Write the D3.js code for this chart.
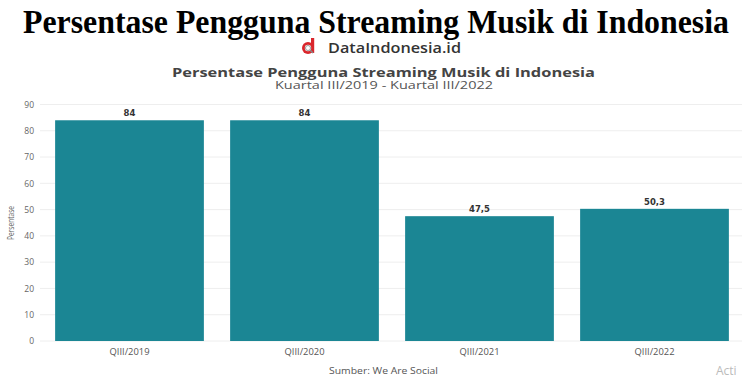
<!DOCTYPE html>
<html><head><meta charset="utf-8">
<script src="https://cdn.jsdelivr.net/npm/d3@7"></script>
<style>body{margin:0;background:#fff;}svg{display:block;}</style>
</head><body>
<svg id="c" width="745" height="377"></svg>
<script>
const categories = ["QIII/2019", "QIII/2020", "QIII/2021", "QIII/2022"];
const values = [84, 84, 47.5, 50.3];
const valueLabels = ["84", "84", "47,5", "50,3"];
const yTicks = [0, 10, 20, 30, 40, 50, 60, 70, 80, 90];

const svg = d3.select("#c");
const W = 745, H = 377;
svg.append("rect").attr("width", W).attr("height", H).attr("fill", "#fff");

const x = d3.scaleBand().domain(categories).range([42, 742]).paddingInner(0.15).paddingOuter(0.075);
const y = d3.scaleLinear().domain([0, 90]).range([341, 104.5]);

// Title
svg.append("text").attr("x", 23).attr("y", 33)
  .attr("font-family", "Liberation Serif, Times New Roman, serif").attr("font-weight", "bold")
  .attr("font-size", 33).attr("fill", "#000")
  .attr("textLength", 706).attr("lengthAdjust", "spacingAndGlyphs")
  .text("Persentase Pengguna Streaming Musik di Indonesia");

// Logo
const lg = svg.append("g").attr("transform", "translate(308,48)");
lg.append("circle").attr("r", 6).attr("fill", "#d9262c");
lg.append("rect").attr("x", 3).attr("y", -10).attr("width", 3.2).attr("height", 15).attr("fill", "#d9262c");
lg.append("circle").attr("r", 3.2).attr("fill", "#fff");
lg.append("circle").attr("r", 2.5).attr("fill", "none").attr("stroke", "#999").attr("stroke-width", 1);
lg.append("line").attr("x1", 2).attr("y1", 2).attr("x2", 5).attr("y2", 5).attr("stroke", "#888").attr("stroke-width", 1.5);
svg.append("text").attr("x", 328).attr("y", 53).attr("font-family", "Open Sans, sans-serif")
  .attr("font-weight", "600").attr("font-size", 14).attr("fill", "#333")
  .attr("textLength", 133).attr("lengthAdjust", "spacingAndGlyphs").text("DataIndonesia.id");

// Subtitle
svg.append("text").attr("x", 172).attr("y", 77)
  .attr("font-family", "Open Sans, sans-serif").attr("font-weight", "bold")
  .attr("font-size", 13).attr("fill", "#444")
  .attr("textLength", 423).attr("lengthAdjust", "spacingAndGlyphs")
  .text("Persentase Pengguna Streaming Musik di Indonesia");
svg.append("text").attr("x", 275).attr("y", 89)
  .attr("font-family", "Open Sans, sans-serif").attr("font-size", 11).attr("fill", "#555")
  .attr("textLength", 218).attr("lengthAdjust", "spacingAndGlyphs")
  .text("Kuartal III/2019 - Kuartal III/2022");

// Grid
svg.append("g").selectAll("line").data(yTicks).join("line")
  .attr("x1", 40).attr("x2", 742).attr("y1", d => y(d)).attr("y2", d => y(d))
  .attr("stroke", "#eeeeee").attr("stroke-width", 1);

// Y axis labels
const yAxis = d3.axisLeft(y).tickValues(yTicks).tickSize(0).tickPadding(0);
const ya = svg.append("g").attr("transform", "translate(34,0)").call(yAxis);
ya.select(".domain").remove();
ya.selectAll("text").attr("font-family", "Open Sans, sans-serif").attr("font-size", 8.5).attr("fill", "#666");

// Y title
svg.append("text").attr("transform", "translate(14,223) rotate(-90)").attr("text-anchor", "middle")
  .attr("font-family", "Open Sans, sans-serif").attr("font-size", 8.5).attr("fill", "#666")
  .attr("textLength", 34).attr("lengthAdjust", "spacingAndGlyphs").text("Persentase");

// Bars
svg.append("g").selectAll("rect").data(values).join("rect")
  .attr("x", (d, i) => x(categories[i])).attr("width", x.bandwidth())
  .attr("y", d => y(d)).attr("height", d => y(0) - y(d)).attr("fill", "#1b8694");

// Value labels
svg.append("g").selectAll("text").data(values).join("text")
  .attr("x", (d, i) => x(categories[i]) + x.bandwidth() / 2).attr("y", d => y(d) - 4)
  .attr("text-anchor", "middle").attr("font-family", "DejaVu Sans, sans-serif").attr("font-weight", "bold")
  .attr("font-size", 8.5).attr("fill", "#333").text((d, i) => valueLabels[i]);

// X axis
const xAxis = d3.axisBottom(x).tickSize(0).tickPadding(0);
const xa = svg.append("g").attr("transform", "translate(0,355)").call(xAxis);
xa.select(".domain").remove();
xa.selectAll("text").attr("dy", 0).attr("font-family", "Open Sans, sans-serif").attr("font-size", 8.5).attr("fill", "#555")
  .attr("textLength", 40).attr("lengthAdjust", "spacingAndGlyphs");

// Source
svg.append("text").attr("x", 329).attr("y", 374)
  .attr("font-family", "Open Sans, sans-serif").attr("font-size", 9.5).attr("fill", "#555")
  .attr("textLength", 109).attr("lengthAdjust", "spacingAndGlyphs").text("Sumber: We Are Social");
svg.append("text").attr("x", 716).attr("y", 375)
  .attr("font-family", "Open Sans, sans-serif").attr("font-size", 12).attr("fill", "#bbb").text("Acti");
</script>
</body></html>
